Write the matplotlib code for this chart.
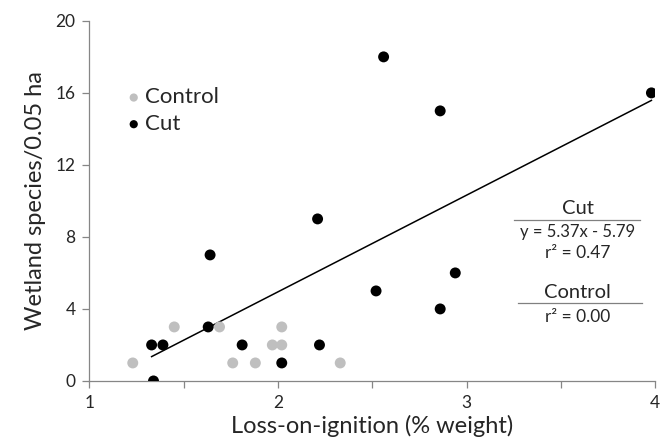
import numpy as np
import matplotlib
matplotlib.use('Agg')
import matplotlib.pyplot as plt

plt.rcParams['font.family'] = ['Lato', 'DejaVu Sans']

# loss-on-ignition (% weight) vs wetland species per 0.05 ha
control_x = [1.23, 1.45, 1.69, 1.76, 1.88, 1.97, 2.02, 2.02, 2.33]
control_y = [1, 3, 3, 1, 1, 2, 2, 3, 1]

cut_x = [1.33, 1.34, 1.39, 1.63, 1.64, 1.81, 2.02, 2.21, 2.22, 2.52, 2.56, 2.86, 2.86, 2.94, 3.98]
cut_y = [2, 0, 2, 3, 7, 2, 1, 9, 2, 5, 18, 15, 4, 6, 16]

# fitted line for the cut sites
slope = 5.37
intercept = -5.79

x_ticks = [1, 1.5, 2, 2.5, 3, 3.5, 4]
x_tick_labels = ['1', '', '2', '', '3', '', '4']
y_ticks = [0, 4, 8, 12, 16, 20]

fig = plt.figure(figsize=(6.72, 4.44), dpi=100)
ax = fig.add_axes([0.133, 0.142, 0.842, 0.811])

ax.scatter(control_x, control_y, s=62, color='#bfbfbf', edgecolors='none', label='Control', zorder=3)
ax.scatter(cut_x, cut_y, s=62, color='black', edgecolors='none', label='Cut', zorder=4)

fx = np.array([min(cut_x), max(cut_x)])
ax.plot(fx, slope * fx + intercept, color='black', lw=1.1, zorder=2)

ax.set_xlim(1, 4)
ax.set_ylim(0, 20)
ax.set_xticks(x_ticks)
ax.set_xticklabels(x_tick_labels)
ax.set_yticks(y_ticks)
ax.tick_params(axis='both', direction='out', length=5, width=0.9, color='#868686',
               labelsize=12.5, labelcolor='#262626', pad=5)
for side in ['top', 'right']:
    ax.spines[side].set_visible(False)
for side in ['left', 'bottom']:
    ax.spines[side].set_color('#868686')
    ax.spines[side].set_linewidth(0.9)

ax.set_xlabel('Loss-on-ignition (% weight)', fontsize=17, color='#262626', labelpad=3)
ax.set_ylabel('Wetland species/0.05 ha', fontsize=17, color='#262626', labelpad=7)

leg = ax.legend(loc='upper left', bbox_to_anchor=(0.045, 0.84), frameon=False,
                fontsize=16, handletextpad=0.05, handlelength=0.9,
                labelspacing=0.3, borderaxespad=0, markerscale=0.75)
for t in leg.get_texts():
    t.set_color('#262626')

# equation box
cx = 3.59
ax.text(cx, 9.6, 'Cut', ha='center', va='center', fontsize=14.5, color='#262626')
ax.plot([3.254, 3.918], [8.94, 8.94], color='#808080', lw=0.9, clip_on=False)
ax.text(cx, 8.28, 'y = 5.37x - 5.79', ha='center', va='center', fontsize=12, color='#262626')
ax.text(cx, 7.1, 'r² = 0.47', ha='center', va='center', fontsize=12.5, color='#262626')
ax.text(cx, 4.94, 'Control', ha='center', va='center', fontsize=14.5, color='#262626')
ax.plot([3.27, 3.93], [4.33, 4.33], color='#808080', lw=0.9, clip_on=False)
ax.text(cx, 3.56, 'r² = 0.00', ha='center', va='center', fontsize=12.5, color='#262626')

fig.savefig('out.png', dpi=100)
